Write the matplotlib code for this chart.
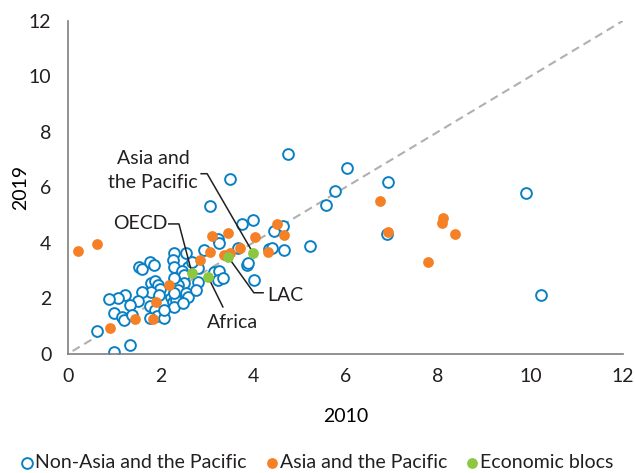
import numpy as np
import matplotlib
from matplotlib import pyplot as plt


# =============================================================================
# Data
# =============================================================================
non_asia_2010 = [4.76, 6.03, 5.77, 5.58, 6.92, 6.90, 9.90, 10.23, 5.23, 3.50,
	3.07, 4.00, 3.76, 4.45, 4.65, 4.35, 4.41, 4.67, 3.87, 3.24, 3.26, 2.94,
	3.68, 4.02, 3.89, 2.29, 2.55, 1.54, 1.60, 1.77, 1.86, 2.27, 2.29, 2.59,
	2.46, 2.51, 2.81, 3.16, 3.26, 3.24, 3.35, 2.81, 2.51, 2.38, 2.38, 2.23,
	2.08, 1.79, 1.88, 1.95, 1.99, 1.79, 1.97, 1.60, 1.23, 1.08, 0.89, 1.51,
	1.34, 0.99, 1.17, 1.21, 1.38, 1.77, 1.88, 1.92, 1.77, 2.08, 2.27, 2.34,
	2.29, 2.29, 2.55, 2.59, 2.49, 2.08, 0.63, 1.34, 0.99, 2.29, 2.68, 2.77]
non_asia_2019 = [7.21, 6.70, 5.87, 5.37, 6.20, 4.32, 5.80, 2.13, 3.89, 6.31,
	5.33, 4.83, 4.68, 4.43, 4.61, 3.78, 3.82, 3.75, 3.21, 4.14, 4.00, 3.75,
	3.82, 2.67, 3.28, 3.64, 3.64, 3.14, 3.06, 3.32, 3.21, 3.39, 3.14, 3.14,
	2.99, 2.85, 3.10, 2.95, 2.99, 2.67, 2.74, 2.59, 2.56, 2.49, 2.31, 2.05,
	2.31, 2.56, 2.63, 2.49, 2.34, 2.23, 2.13, 2.23, 2.13, 2.02, 1.98, 1.91,
	1.77, 1.48, 1.33, 1.23, 1.41, 1.73, 1.59, 1.37, 1.30, 1.30, 1.87, 1.95,
	1.69, 2.20, 2.20, 2.05, 1.84, 1.59, 0.83, 0.32, 0.07, 2.74, 3.32, 2.31]

asia_2010 = [0.22, 0.63, 0.91, 1.45, 1.84, 1.90, 2.18, 2.85, 3.07, 3.11,
	3.46, 3.37, 3.50, 3.72, 4.04, 4.32, 4.52, 4.67, 6.75, 6.92, 8.09, 8.11,
	8.37, 7.78]
asia_2019 = [3.71, 3.96, 0.94, 1.26, 1.26, 1.87, 2.49, 3.39, 3.68, 4.25,
	4.36, 3.57, 3.64, 3.82, 4.22, 3.68, 4.68, 4.29, 5.51, 4.40, 4.72, 4.90,
	4.32, 3.32]

bloc_names = ['OECD', 'Africa', 'LAC', 'Asia and the Pacific']
bloc_2010 = [2.68, 3.03, 3.46, 4.00]
bloc_2019 = [2.92, 2.77, 3.50, 3.64]

ticks = [0, 2, 4, 6, 8, 10, 12]


# =============================================================================
# Plot parameters
# =============================================================================
matplotlib.rcParams['font.family'] = ['Lato', 'DejaVu Sans']
matplotlib.rcParams['font.size'] = 13
matplotlib.rcParams['text.color'] = '#231f20'

blue = '#0a80c4'
orange = '#f58025'
green = '#8dc63f'
dark = '#231f20'


# =============================================================================
# Plot the scatter
# =============================================================================
fig = plt.figure(figsize=(6.35, 4.73), dpi=100)
ax = fig.add_axes([0.107, 0.252, 0.874, 0.704])

# 45 degree line
ax.plot([0.1, 12], [0.1, 12], color='#b0b0b0', linestyle=(0, (4, 2.5)),
	linewidth=1.5, zorder=1)

ax.scatter(non_asia_2010, non_asia_2019, s=60, facecolors='white',
	edgecolors=blue, linewidths=1.4, zorder=2,
	label='Non-Asia and the Pacific')
ax.scatter(asia_2010, asia_2019, s=60, color=orange, linewidths=0, zorder=3,
	label='Asia and the Pacific')
ax.scatter(bloc_2010, bloc_2019, s=60, color=green, linewidths=0, zorder=4,
	label='Economic blocs')

# Labels for the economic blocs
lw = 1.1
# OECD
ax.plot([2.18, 2.40, bloc_2010[0]], [4.68, 4.68, bloc_2019[0]], color=dark,
	linewidth=lw, zorder=3.5)
ax.text(2.16, 4.68, 'OECD', ha='right', va='center', fontsize=14)
# Africa
ax.plot([bloc_2010[1], 3.35], [bloc_2019[1], 1.69], color=dark,
	linewidth=lw, zorder=3.5)
ax.text(3.55, 1.12, 'Africa', ha='center', va='center', fontsize=14)
# LAC
ax.plot([bloc_2010[2], 4.02, 4.22], [bloc_2019[2], 2.20, 2.20], color=dark,
	linewidth=lw, zorder=3.5)
ax.text(4.30, 2.10, 'LAC', ha='left', va='center', fontsize=14)
# Asia and the Pacific
ax.plot([2.88, 3.01, bloc_2010[3]], [6.49, 6.49, bloc_2019[3]], color=dark,
	linewidth=lw, zorder=3.5)
ax.text(1.84, 6.59, 'Asia and\nthe Pacific', ha='center', va='center',
	fontsize=14, linespacing=1.5)

# Axes
ax.set_xlim(0, 12)
ax.set_ylim(0, 12)
ax.set_xticks(ticks)
ax.set_yticks(ticks)
ax.tick_params(length=0, labelsize=14, colors=dark, pad=10)
ax.tick_params(axis='y', pad=12)
for side in ['top', 'right']:
	ax.spines[side].set_visible(False)
for side in ['left', 'bottom']:
	ax.spines[side].set_color('#7f7f7f')
	ax.spines[side].set_linewidth(1.2)
ax.set_xlabel('2010', fontsize=14, labelpad=17)
ax.set_ylabel('2019', fontsize=14, labelpad=0)

fig.legend(loc='lower center', bbox_to_anchor=(0.5, -0.02), ncol=3,
	frameon=False, fontsize=14, handlelength=0.6, handletextpad=0.1,
	columnspacing=1.0, borderaxespad=0.2)

plt.savefig('out.png', dpi=100)
